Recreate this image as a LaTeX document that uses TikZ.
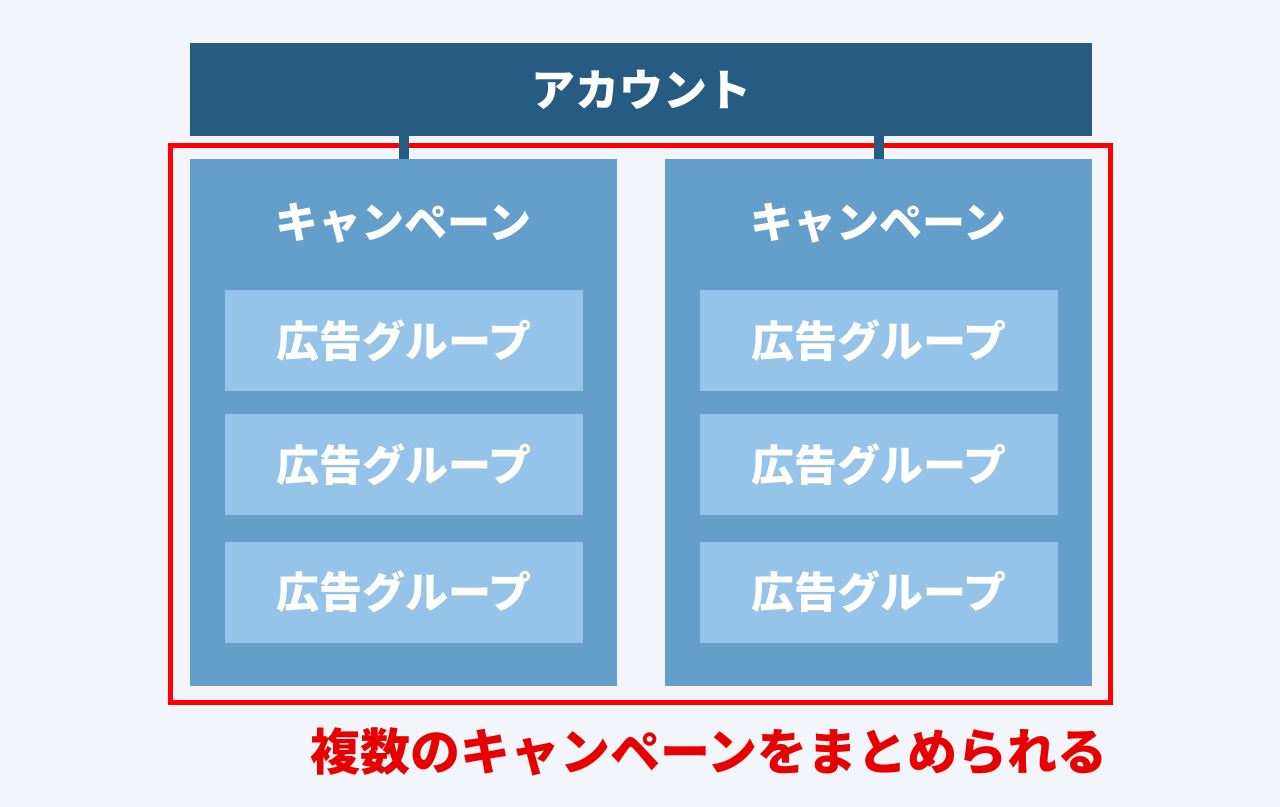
\documentclass[tikz,border=0pt]{standalone}
\usepackage{fontspec}
\setmainfont{Noto Sans CJK JP}[BoldFont={Noto Sans CJK JP Black}]
\definecolor{bgcol}{HTML}{F2F5F9}
\definecolor{acctcol}{HTML}{265B82}
\definecolor{campcol}{HTML}{649FCC}
\definecolor{grpcol}{HTML}{96C4E9}
\definecolor{framered}{HTML}{FF0000}
\definecolor{textred}{HTML}{E80000}
\begin{document}
\begin{tikzpicture}[x=0.5pt, y=-0.5pt, every node/.style={inner sep=0pt, outer sep=0pt},
                  acct/.style={fill=acctcol, minimum width=451pt, minimum height=46.5pt,
                  text=white, font=\bfseries\fontsize{22pt}{22pt}\selectfont},
                  camp/.style={fill=campcol, minimum width=213.5pt, minimum height=263.5pt},
                  title/.style={text=white, font=\bfseries\fontsize{21.5pt}{21.5pt}\selectfont},
                  grp/.style={fill=grpcol, minimum width=179pt, minimum height=50.5pt,
                  text=white, font=\bfseries\fontsize{21.5pt}{21.5pt}\selectfont}]
              \fill[bgcol] (0,0) rectangle (1280,807);
              \useasboundingbox (0,0) rectangle (1280,807);
              \draw[framered, line width=2.5pt] (170.5,145.5) rectangle (1110.5,702.5);
              \node[acct] (acct) at (641,89.5) {アカウント};
              \node[camp] (camp1) at (403.5,422.5) {};
              \node[camp] (camp2) at (878.5,422.5) {};
              \node[title] (title1) at (403.5,223) {キャンペーン};
              \node[title] (title2) at (878.5,223) {キャンペーン};
              \node[grp] (g11) at (404,341) {広告グループ};
              \node[grp] (g12) at (404,464.5) {広告グループ};
              \node[grp] (g13) at (404,592) {広告グループ};
              \node[grp] (g21) at (879,341) {広告グループ};
              \node[grp] (g22) at (879,464.5) {広告グループ};
              \node[grp] (g23) at (879,592) {広告グループ};
              \draw[acctcol, line width=5pt] (acct.south -| camp1.north) -- (camp1.north);
              \draw[acctcol, line width=5pt] (acct.south -| camp2.north) -- (camp2.north);
              \node[text=textred, font=\bfseries\fontsize{25pt}{25pt}\selectfont] (note) at (709,752) {複数のキャンペーンをまとめられる};
          \end{tikzpicture}
\end{document}
